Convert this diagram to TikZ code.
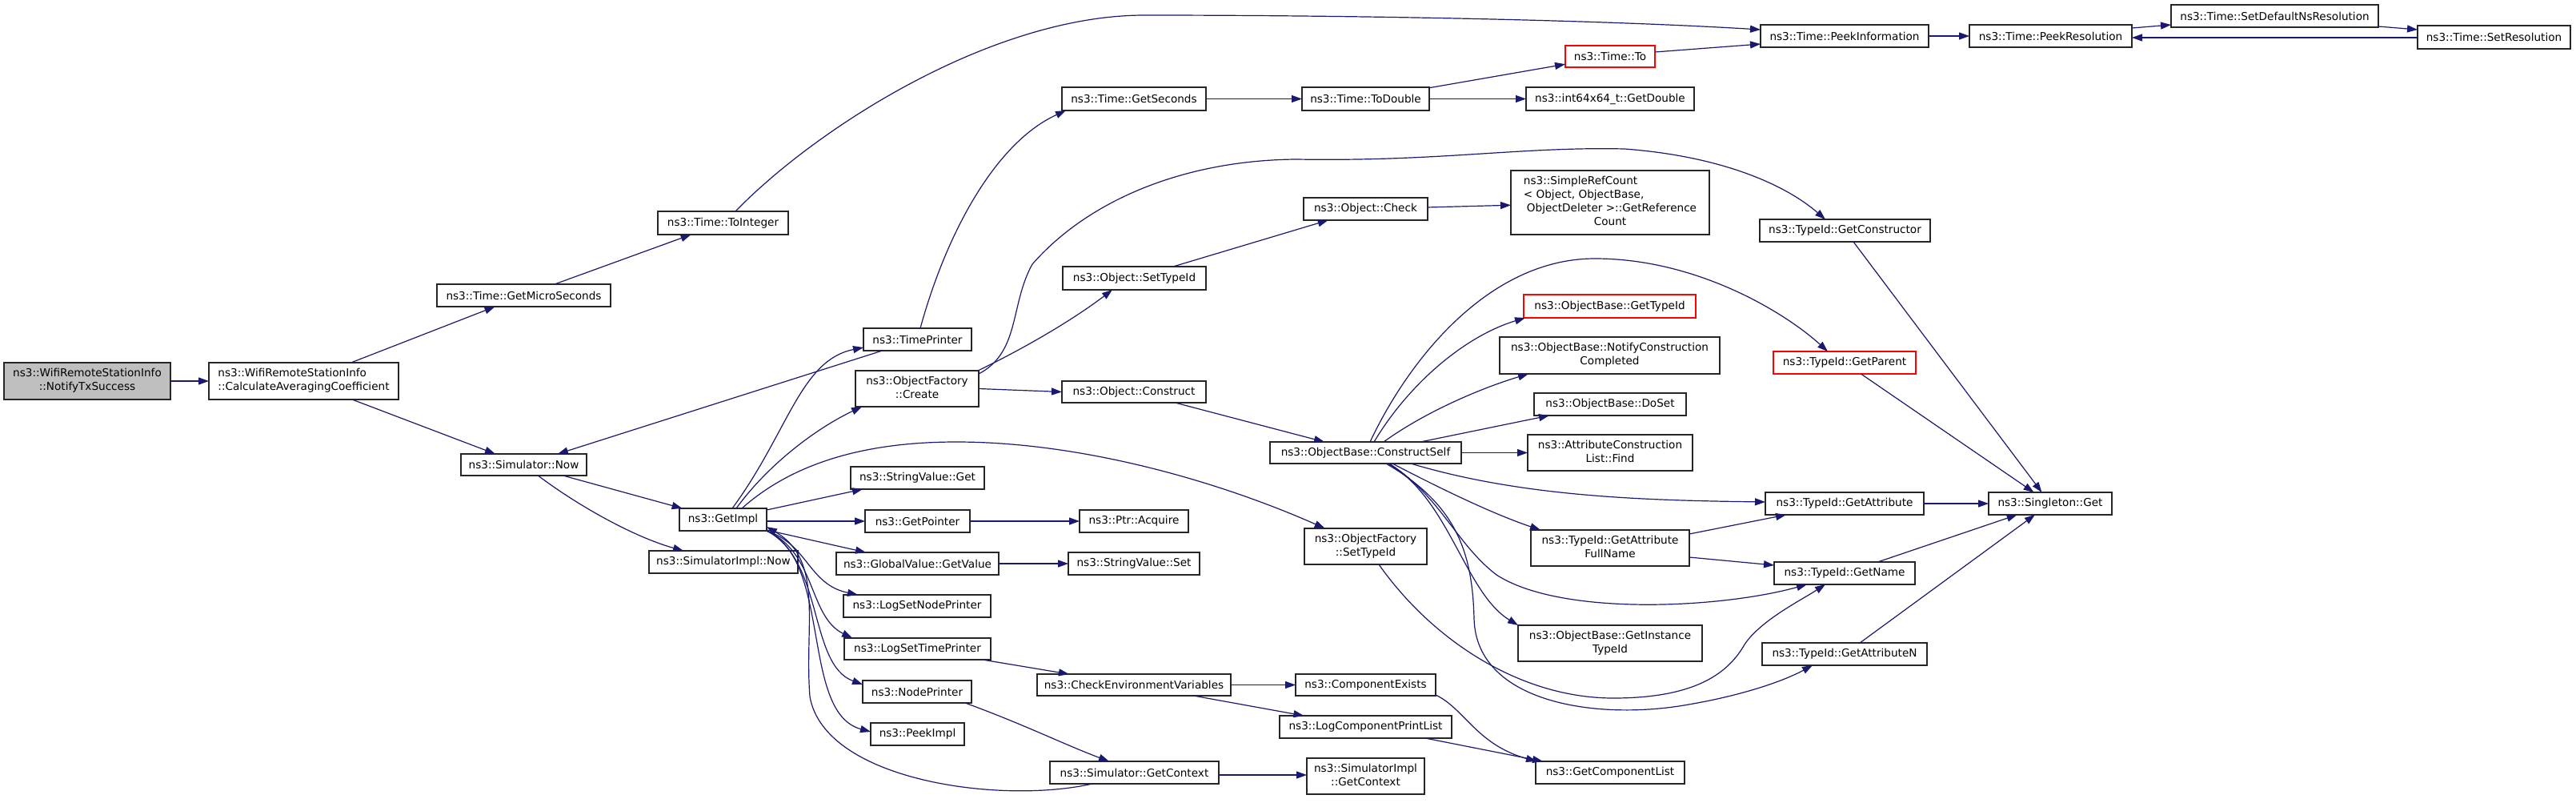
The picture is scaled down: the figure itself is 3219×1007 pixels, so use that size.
\documentclass[tikz,border=0pt]{standalone}
\usepackage{fontspec}
\setmainfont{DejaVu Sans}
\usetikzlibrary{arrows.meta}
\definecolor{edgecol}{HTML}{191970}
\definecolor{nodegray}{HTML}{BFBFBF}
\newcommand\twol[2]{\begin{tabular}{@{}l@{}}#1\\\multicolumn{1}{@{}c@{}}{#2}\end{tabular}}
\newcommand\bx[6][]{%
  \pgfmathsetmacro\bxcx{(#3+#5)/2}%
  \pgfmathsetmacro\bxcy{(#4+#6)/2}%
  \pgfmathsetmacro\bxw{#5-#3}%
  \pgfmathsetmacro\bxh{#6-#4}%
  \node[gbox,minimum width=\bxw pt,minimum height=\bxh pt,#1] (#2) at (\bxcx,\bxcy)}
\tikzset{
  gbox/.style={draw=black!85, line width=1.25pt, fill=white, inner sep=0pt, outer sep=0pt,
    font=\fontsize{13.6}{17}\selectfont, text=black},
  cedge/.style={draw=edgecol, line width=1.2pt, -{Triangle[length=13pt,width=9pt]}}
}
\begin{document}
\begin{tikzpicture}[x=1pt,y=-1pt]
\useasboundingbox (0,0) rectangle (3219,1007);
\fill[white] (0,0) rectangle (3219,1007);
% nodes
\bx[fill=nodegray]{notify}{5}{453}{213}{499}{\twol{ns3::WifiRemoteStationInfo}{::NotifyTxSuccess}};
\bx{calc}{261}{453}{498}{499}{\twol{ns3::WifiRemoteStationInfo}{::CalculateAveragingCoefficient}};
\bx{getmicro}{546}{355}{763}{383}{ns3::Time::GetMicroSeconds};
\bx{tointeger}{822}{264}{985}{293}{ns3::Time::ToInteger};
\bx{simnow}{576}{567}{733}{594}{ns3::Simulator::Now};
\bx{getimpl}{849}{635}{958}{663}{ns3::GetImpl};
\bx{simimplnow}{811}{688}{997}{716}{ns3::SimulatorImpl::Now};
\bx{timeprinter}{1079}{410}{1214}{438}{ns3::TimePrinter};
\bx{create}{1069}{463}{1223}{508}{\twol{ns3::ObjectFactory}{::Create}};
\bx{svget}{1063}{583}{1230}{611}{ns3::StringValue::Get};
\bx{getpointer}{1081}{637}{1212}{665}{ns3::GetPointer};
\bx{gvgetvalue}{1045}{690}{1248}{718}{ns3::GlobalValue::GetValue};
\bx{logsetnode}{1054}{743}{1238}{771}{ns3::LogSetNodePrinter};
\bx{logsettime}{1055}{797}{1238}{824}{ns3::LogSetTimePrinter};
\bx{nodeprinter}{1078}{850}{1214}{878}{ns3::NodePrinter};
\bx{peekimpl}{1088}{903}{1205}{931}{ns3::PeekImpl};
\bx{getseconds}{1327}{109}{1507}{138}{ns3::Time::GetSeconds};
\bx{objsettypeid}{1328}{333}{1507}{362}{ns3::Object::SetTypeId};
\bx{objconstruct}{1327}{476}{1507}{503}{ns3::Object::Construct};
\bx{ptracquire}{1349}{637}{1485}{665}{ns3::Ptr::Acquire};
\bx{svset}{1335}{690}{1499}{718}{ns3::StringValue::Set};
\bx{checkenv}{1296}{842}{1538}{869}{ns3::CheckEnvironmentVariables};
\bx{simgetctx}{1312}{951}{1523}{979}{ns3::Simulator::GetContext};
\bx{todouble}{1627}{109}{1786}{138}{ns3::Time::ToDouble};
\bx{objcheck}{1629}{247}{1784}{275}{ns3::Object::Check};
\bx{constructself}{1587}{552}{1826}{579}{ns3::ObjectBase::ConstructSelf};
\bx{ofsettypeid}{1630}{660}{1783}{705}{\twol{ns3::ObjectFactory}{::SetTypeId}};
\bx{compexists}{1619}{842}{1794}{869}{ns3::ComponentExists};
\bx{logcompprint}{1599}{894}{1814}{922}{ns3::LogComponentPrintList};
\bx{simimplctx}{1633}{947}{1780}{992}{\twol{ns3::SimulatorImpl}{::GetContext}};
\bx[draw=red]{timeto}{1956}{57}{2068}{84}{ns3::Time::To};
\bx{getdouble}{1907}{109}{2117}{138}{ns3::int64x64\_t::GetDouble};
\bx{simpleref}{1888}{213}{2136}{293}{\begin{tabular}{@{}l@{}}ns3::SimpleRefCount\\< Object, ObjectBase,\\\hspace{4pt}ObjectDeleter >::GetReference\\\multicolumn{1}{@{}c@{}}{Count}\end{tabular}};
\bx[draw=red]{obgettypeid}{1904}{368}{2119}{397}{ns3::ObjectBase::GetTypeId};
\bx{notifyconstr}{1874}{421}{2149}{467}{\twol{ns3::ObjectBase::NotifyConstruction}{Completed}};
\bx{doset}{1917}{491}{2107}{519}{ns3::ObjectBase::DoSet};
\bx{attrfind}{1909}{543}{2115}{588}{\twol{ns3::AttributeConstruction}{List::Find}};
\bx{attrfullname}{1913}{662}{2111}{707}{\twol{ns3::TypeId::GetAttribute}{FullName}};
\bx{getinsttypeid}{1897}{781}{2127}{826}{\twol{ns3::ObjectBase::GetInstance}{TypeId}};
\bx{getcomplist}{1919}{951}{2105}{979}{ns3::GetComponentList};
\bx{peekinfo}{2200}{31}{2410}{59}{ns3::Time::PeekInformation};
\bx{getconstructor}{2199}{274}{2412}{302}{ns3::TypeId::GetConstructor};
\bx[draw=red]{getparent}{2216}{439}{2394}{467}{ns3::TypeId::GetParent};
\bx{getattribute}{2206}{615}{2404}{643}{ns3::TypeId::GetAttribute};
\bx{getname}{2217}{702}{2393}{730}{ns3::TypeId::GetName};
\bx{getattrn}{2202}{803}{2408}{831}{ns3::TypeId::GetAttributeN};
\bx{peekres}{2461}{31}{2664}{59}{ns3::Time::PeekResolution};
\bx{setdefns}{2713}{6}{2972}{34}{ns3::Time::SetDefaultNsResolution};
\bx{setres}{3021}{32}{3212}{61}{ns3::Time::SetResolution};
\bx{singleton}{2485}{615}{2639}{643}{ns3::Singleton::Get};
% edges
\draw[cedge] (notify) -- (calc);
\draw[cedge] (calc) -- (getmicro);
\draw[cedge] (calc) -- (simnow);
\draw[cedge] (getmicro) -- (tointeger);
\draw[cedge] ([xshift=15.5pt]tointeger.north) .. controls (1020,160) and (1240,19) .. (1430,19) .. controls (1700,19) and (2000,25) .. ([yshift=8pt]peekinfo.west);
\draw[cedge] (simnow) -- (getimpl);
\draw[cedge] (simnow) .. controls (720,630) and (790,670) .. (simimplnow);
\draw[cedge] (timeprinter) -- (simnow);
\draw[cedge] ([xshift=3.5pt]timeprinter.north) .. controls (1180,300) and (1240,180) .. ([xshift=5pt]getseconds.south west);
\draw[cedge] (getseconds) -- (todouble);
\draw[cedge] (todouble) -- (timeto);
\draw[cedge] (todouble) -- (getdouble);
\draw[cedge] ([yshift=5.5pt]timeto.east) -- ([yshift=-10pt]peekinfo.west);
\draw[cedge] (peekinfo) -- (peekres);
\draw[cedge] ([yshift=10pt]peekres.east) -- ([yshift=-11pt]setdefns.west);
\draw[cedge] ([yshift=-13pt]setdefns.east) -- ([yshift=9.5pt]setres.west);
\draw[cedge] ([yshift=-0.5pt]setres.west) -- ([yshift=-2pt]peekres.east);
% GetImpl fan
\draw[cedge] ([xshift=11.5pt]getimpl.north) .. controls (985,540) and (1000,450) .. ([yshift=-10pt]timeprinter.west);
\draw[cedge] ([xshift=16.5pt]getimpl.north) .. controls (960,580) and (1020,535) .. ([xshift=8pt]create.south west);
\draw[cedge] ([xshift=23.5pt]getimpl.north) .. controls (1000,570) and (1100,552) .. (1195,552) .. controls (1350,552) and (1520,600) .. (ofsettypeid);
\draw[cedge] ([yshift=12pt]getimpl.east) -- ([xshift=15pt]svget.south west);
\draw[cedge] ([yshift=-2pt]getimpl.east) -- (getpointer.west);
\draw[cedge] ([yshift=-13pt]getimpl.east) -- ([xshift=37pt]gvgetvalue.north west);
\draw[cedge] (getimpl.south east) .. controls (1010,680) and (1010,730) .. ([xshift=18pt]logsetnode.north west);
\draw[cedge] (getimpl.south east) .. controls (1020,690) and (1010,770) .. ([xshift=10pt]logsettime.north west);
\draw[cedge] (getimpl.south east) .. controls (1030,700) and (1010,830) .. ([yshift=-5pt]nodeprinter.north west);
\draw[cedge] (getimpl.south east) .. controls (1040,700) and (1000,890) .. ([yshift=-11pt]peekimpl.north west);
\draw[cedge] ([xshift=-52.5pt]simgetctx.south) .. controls (1250,1005) and (1030,975) .. (1012,870) .. controls (1005,780) and (1030,700) .. ([yshift=-9pt]getimpl.east);
\draw[cedge] (getpointer) -- (ptracquire);
\draw[cedge] (gvgetvalue) -- (svset);
\draw[cedge] (logsettime) -- (checkenv);
\draw[cedge] ([xshift=60pt]nodeprinter.south) .. controls (1280,905) and (1330,930) .. ([xshift=-31.5pt]simgetctx.north);
\draw[cedge] ([yshift=-3pt]simgetctx.east) -- ([yshift=1.5pt]simimplctx.west);
\draw[cedge] (checkenv) -- (compexists);
\draw[cedge] (checkenv) -- (logcompprint);
\draw[cedge] ([yshift=-12.5pt]compexists.east) .. controls (1830,885) and (1845,930) .. ([xshift=1pt]getcomplist.north west);
\draw[cedge] ([xshift=74.5pt]logcompprint.south) -- ([xshift=9pt]getcomplist.north west);
% Create
\draw[cedge] ([xshift=-1pt]create.north east) .. controls (1280,435) and (1340,400) .. ([xshift=-27.5pt]objsettypeid.south);
\draw[cedge] (create.east) -- (objconstruct.west);
\draw[cedge] ([yshift=-4pt]create.north east) .. controls (1275,440) and (1262,380) .. (1290,330) .. controls (1360,250) and (1480,200) .. (1620,199) .. controls (1800,202) and (1900,183) .. (2030,186) .. controls (2150,195) and (2230,230) .. ([xshift=-24.5pt]getconstructor.north);
\draw[cedge] (objsettypeid) -- (objcheck);
\draw[cedge] (objcheck) -- (simpleref);
\draw[cedge] (objconstruct) -- (constructself);
% ConstructSelf fan
\draw[cedge] ([xshift=5.5pt]constructself.north) .. controls (1760,450) and (1860,323) .. (1993,323) .. controls (2120,323) and (2230,390) .. ([xshift=-21pt]getparent.north);
\draw[cedge] ([xshift=10.5pt]constructself.north) .. controls (1760,480) and (1830,420) .. ([xshift=2pt]obgettypeid.south west);
\draw[cedge] ([xshift=22.5pt]constructself.north) .. controls (1780,515) and (1850,485) .. ([xshift=36pt]notifyconstr.south west);
\draw[cedge] ([xshift=68.5pt]constructself.north) -- ([xshift=19pt]doset.south west);
\draw[cedge] (constructself) -- (attrfind);
\draw[cedge] ([xshift=56.5pt]constructself.south) .. controls (1900,620) and (2050,625) .. ([yshift=2pt]getattribute.west);
\draw[cedge] ([xshift=33.5pt]constructself.south) .. controls (1790,605) and (1860,640) .. ([xshift=12pt]attrfullname.north west);
\draw[cedge] ([xshift=29.5pt]constructself.south) .. controls (1800,620) and (1820,680) .. (1870,718) .. controls (1950,770) and (2150,760) .. ([xshift=41pt]getname.south west);
\draw[cedge] ([xshift=27.5pt]constructself.south) .. controls (1810,620) and (1830,740) .. (getinsttypeid.north west);
\draw[cedge] ([xshift=25.5pt]constructself.south) .. controls (1820,630) and (1840,690) .. (1842,773) .. controls (1845,880) and (2000,900) .. (2110,880) .. controls (2180,868) and (2230,850) .. ([xshift=63pt]getattrn.south west);
\draw[cedge] ([xshift=16.5pt]ofsettypeid.south) .. controls (1790,800) and (1900,872) .. (2016,872) .. controls (2120,872) and (2160,840) .. (2180,805) .. controls (2200,775) and (2250,750) .. ([xshift=64pt]getname.south west);
\draw[cedge] ([yshift=17.5pt]attrfullname.east) -- ([xshift=26pt]getattribute.south west);
\draw[cedge] ([yshift=-11.5pt]attrfullname.east) -- ([yshift=10pt]getname.west);
\draw[cedge] (getattribute) -- (singleton);
\draw[cedge] (getname) -- (singleton);
\draw[cedge] (getattrn) -- (singleton);
\draw[cedge] (getconstructor) -- (singleton);
\draw[cedge] (getparent) -- (singleton);
\end{tikzpicture}
\end{document}
